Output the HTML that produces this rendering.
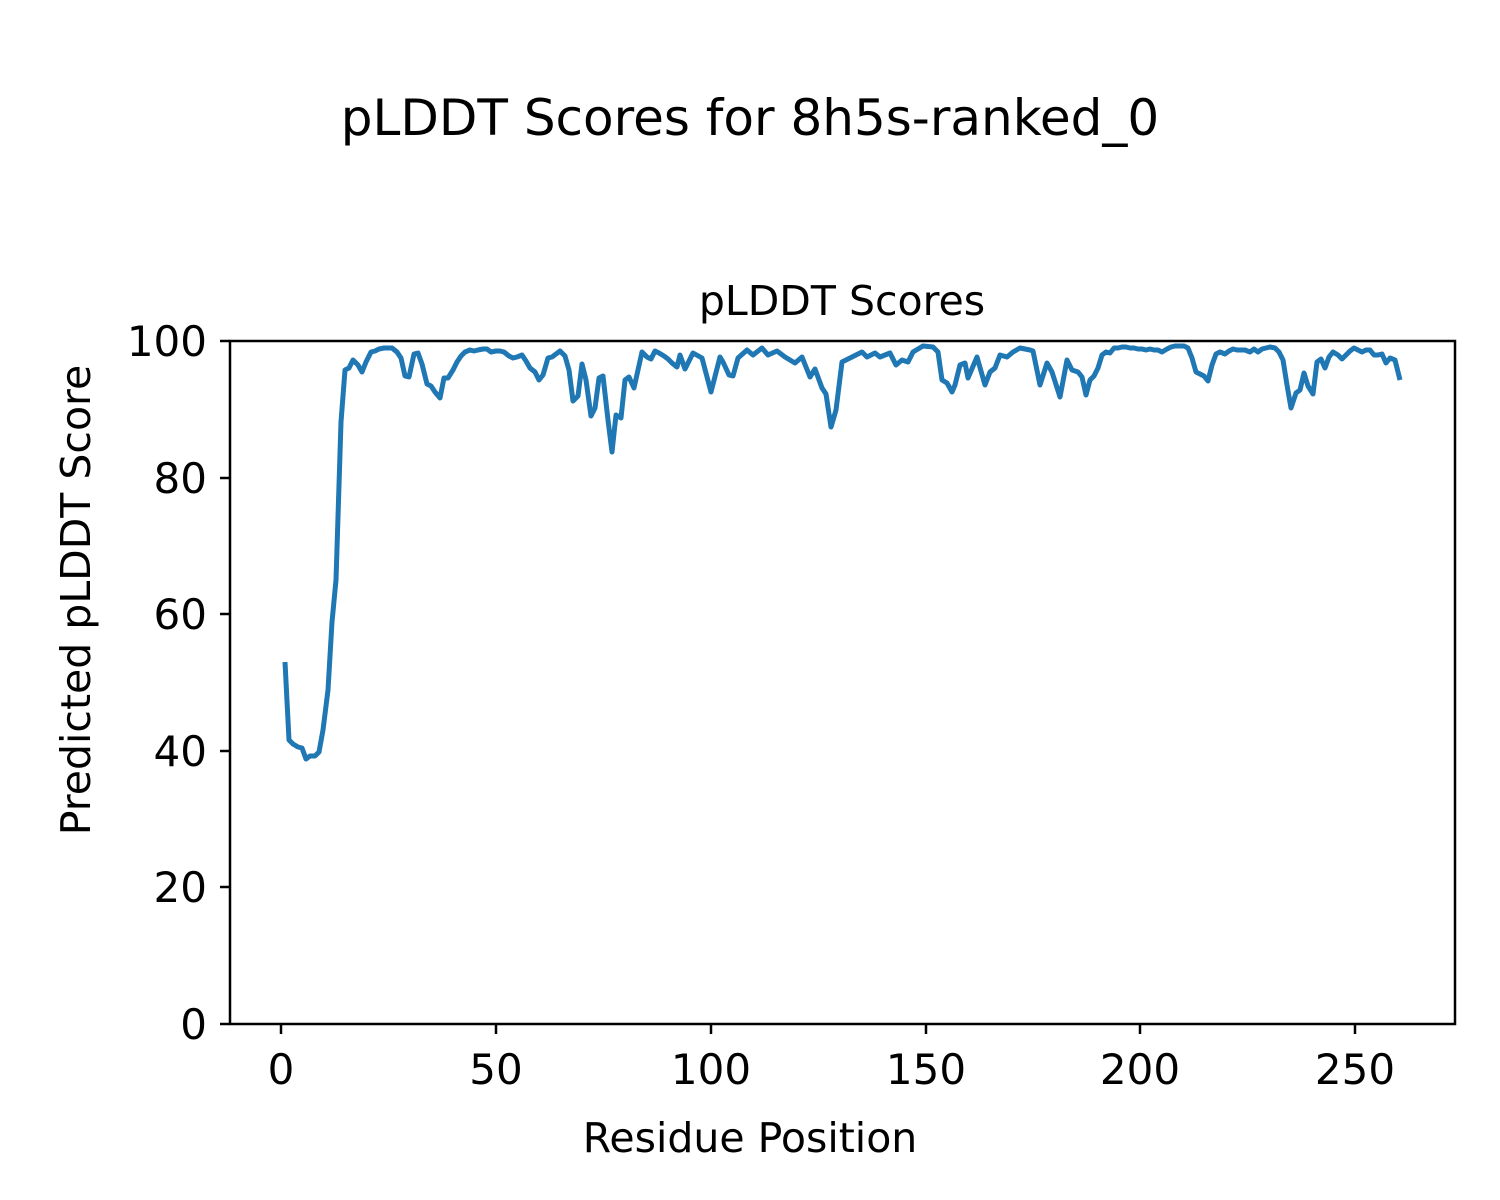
<!DOCTYPE html>
<html><head><meta charset="utf-8"><style>body{margin:0;background:#fff}svg{display:block}text{font-family:"DejaVu Sans","Liberation Sans",sans-serif;fill:#000}</style></head><body>
<svg width="1500" height="1200" viewBox="0 0 1500 1200">
<text x="750" y="135" font-size="50" text-anchor="middle">pLDDT Scores for 8h5s-ranked_0</text>
<text x="842" y="315" font-size="41" text-anchor="middle">pLDDT Scores</text>
<polyline fill="none" stroke="#1f77b4" stroke-width="5" stroke-linejoin="round" points="285,662 289,740 293,744 298,747 302,748 306,759 310,756 315,756 319,752 323,730 328,690 332,622 336,580 341,422 345,370 349,368 353,360 358,365 362,372 366,362 371,352 375,351 379,349 384,348 388,348 392,348 397,352 401,358 405,376 409,377 414,354 418,353 422,364 427,384 431,386 435,392 440,398 444,378 448,378 453,370 457,362 461,356 465,352 470,350 474,351 478,350 483,349 487,349 491,352 496,351 500,351 504,352 509,356 513,358 517,357 522,355 526,361 530,368 535,372 539,380 543,375 548,358 552,357 556,354 560,351 565,356 569,370 573,401 578,396 582,364 586,380 591,416 595,408 599,378 603,376 608,420 612,452 616,415 621,418 625,380 629,377 634,388 638,370 642,352 647,357 651,359 655,351 659,353 664,356 668,359 672,363 677,367 680,355 685,369 693,353 702,358 711,392 720,357 723,362 729,375 733,376 738,358 747,350 753,355 762,348 768,355 777,351 785,357 795,363 802,357 810,377 815,369 822,388 826,394 831,427 836,410 842,362 850,358 862,352 867,357 875,353 880,357 890,353 896,365 902,360 908,362 913,352 923,346 933,347 938,352 942,380 947,383 952,392 955,385 960,365 965,363 968,378 977,357 985,385 990,372 995,368 1000,355 1007,357 1013,352 1020,348 1030,350 1033,351 1040,385 1047,363 1052,372 1060,397 1067,360 1072,370 1078,372 1082,377 1086,395 1090,380 1094,376 1098,368 1102,355 1106,352 1110,353 1114,348 1118,348 1122,347 1126,347 1130,348 1134,348 1138,349 1142,349 1146,350 1150,349 1154,350 1158,350 1162,352 1167,349 1171,347 1175,346 1180,346 1184,346 1188,348 1192,358 1196,372 1200,374 1204,376 1208,381 1212,365 1216,354 1220,352 1225,354 1229,351 1233,349 1237,350 1241,350 1245,350 1250,352 1254,349 1258,352 1262,349 1266,348 1270,347 1275,348 1279,352 1283,360 1287,385 1291,408 1296,393 1300,390 1304,373 1308,386 1313,394 1317,362 1321,359 1325,368 1329,357 1333,352 1338,355 1342,359 1346,355 1350,351 1354,348 1358,350 1362,352 1366,350 1370,350 1374,355 1378,355 1382,354 1386,363 1390,358 1395,360 1400,380"/>
<rect x="230" y="341" width="1225" height="683" fill="none" stroke="#000" stroke-width="2.5"/>
<g stroke="#000" stroke-width="2.5">
<line x1="281" y1="1024" x2="281" y2="1034"/><line x1="496" y1="1024" x2="496" y2="1034"/><line x1="711" y1="1024" x2="711" y2="1034"/><line x1="926" y1="1024" x2="926" y2="1034"/><line x1="1140" y1="1024" x2="1140" y2="1034"/><line x1="1355" y1="1024" x2="1355" y2="1034"/>
<line x1="220" y1="1024" x2="230" y2="1024"/><line x1="220" y1="887" x2="230" y2="887"/><line x1="220" y1="751" x2="230" y2="751"/><line x1="220" y1="614" x2="230" y2="614"/><line x1="220" y1="478" x2="230" y2="478"/><line x1="220" y1="341" x2="230" y2="341"/>
</g>
<g font-size="42" text-anchor="middle">
<text x="281" y="1084">0</text><text x="496" y="1084">50</text><text x="711" y="1084">100</text><text x="926" y="1084">150</text><text x="1140" y="1084">200</text><text x="1355" y="1084">250</text>
</g>
<g font-size="42" text-anchor="end">
<text x="207" y="1039">0</text><text x="207" y="902">20</text><text x="207" y="766">40</text><text x="207" y="629">60</text><text x="207" y="493">80</text><text x="207" y="356">100</text>
</g>
<text x="750" y="1152" font-size="41" text-anchor="middle">Residue Position</text>
<text transform="translate(90,600) rotate(-90)" font-size="41" text-anchor="middle">Predicted pLDDT Score</text>
</svg>
</body></html>
